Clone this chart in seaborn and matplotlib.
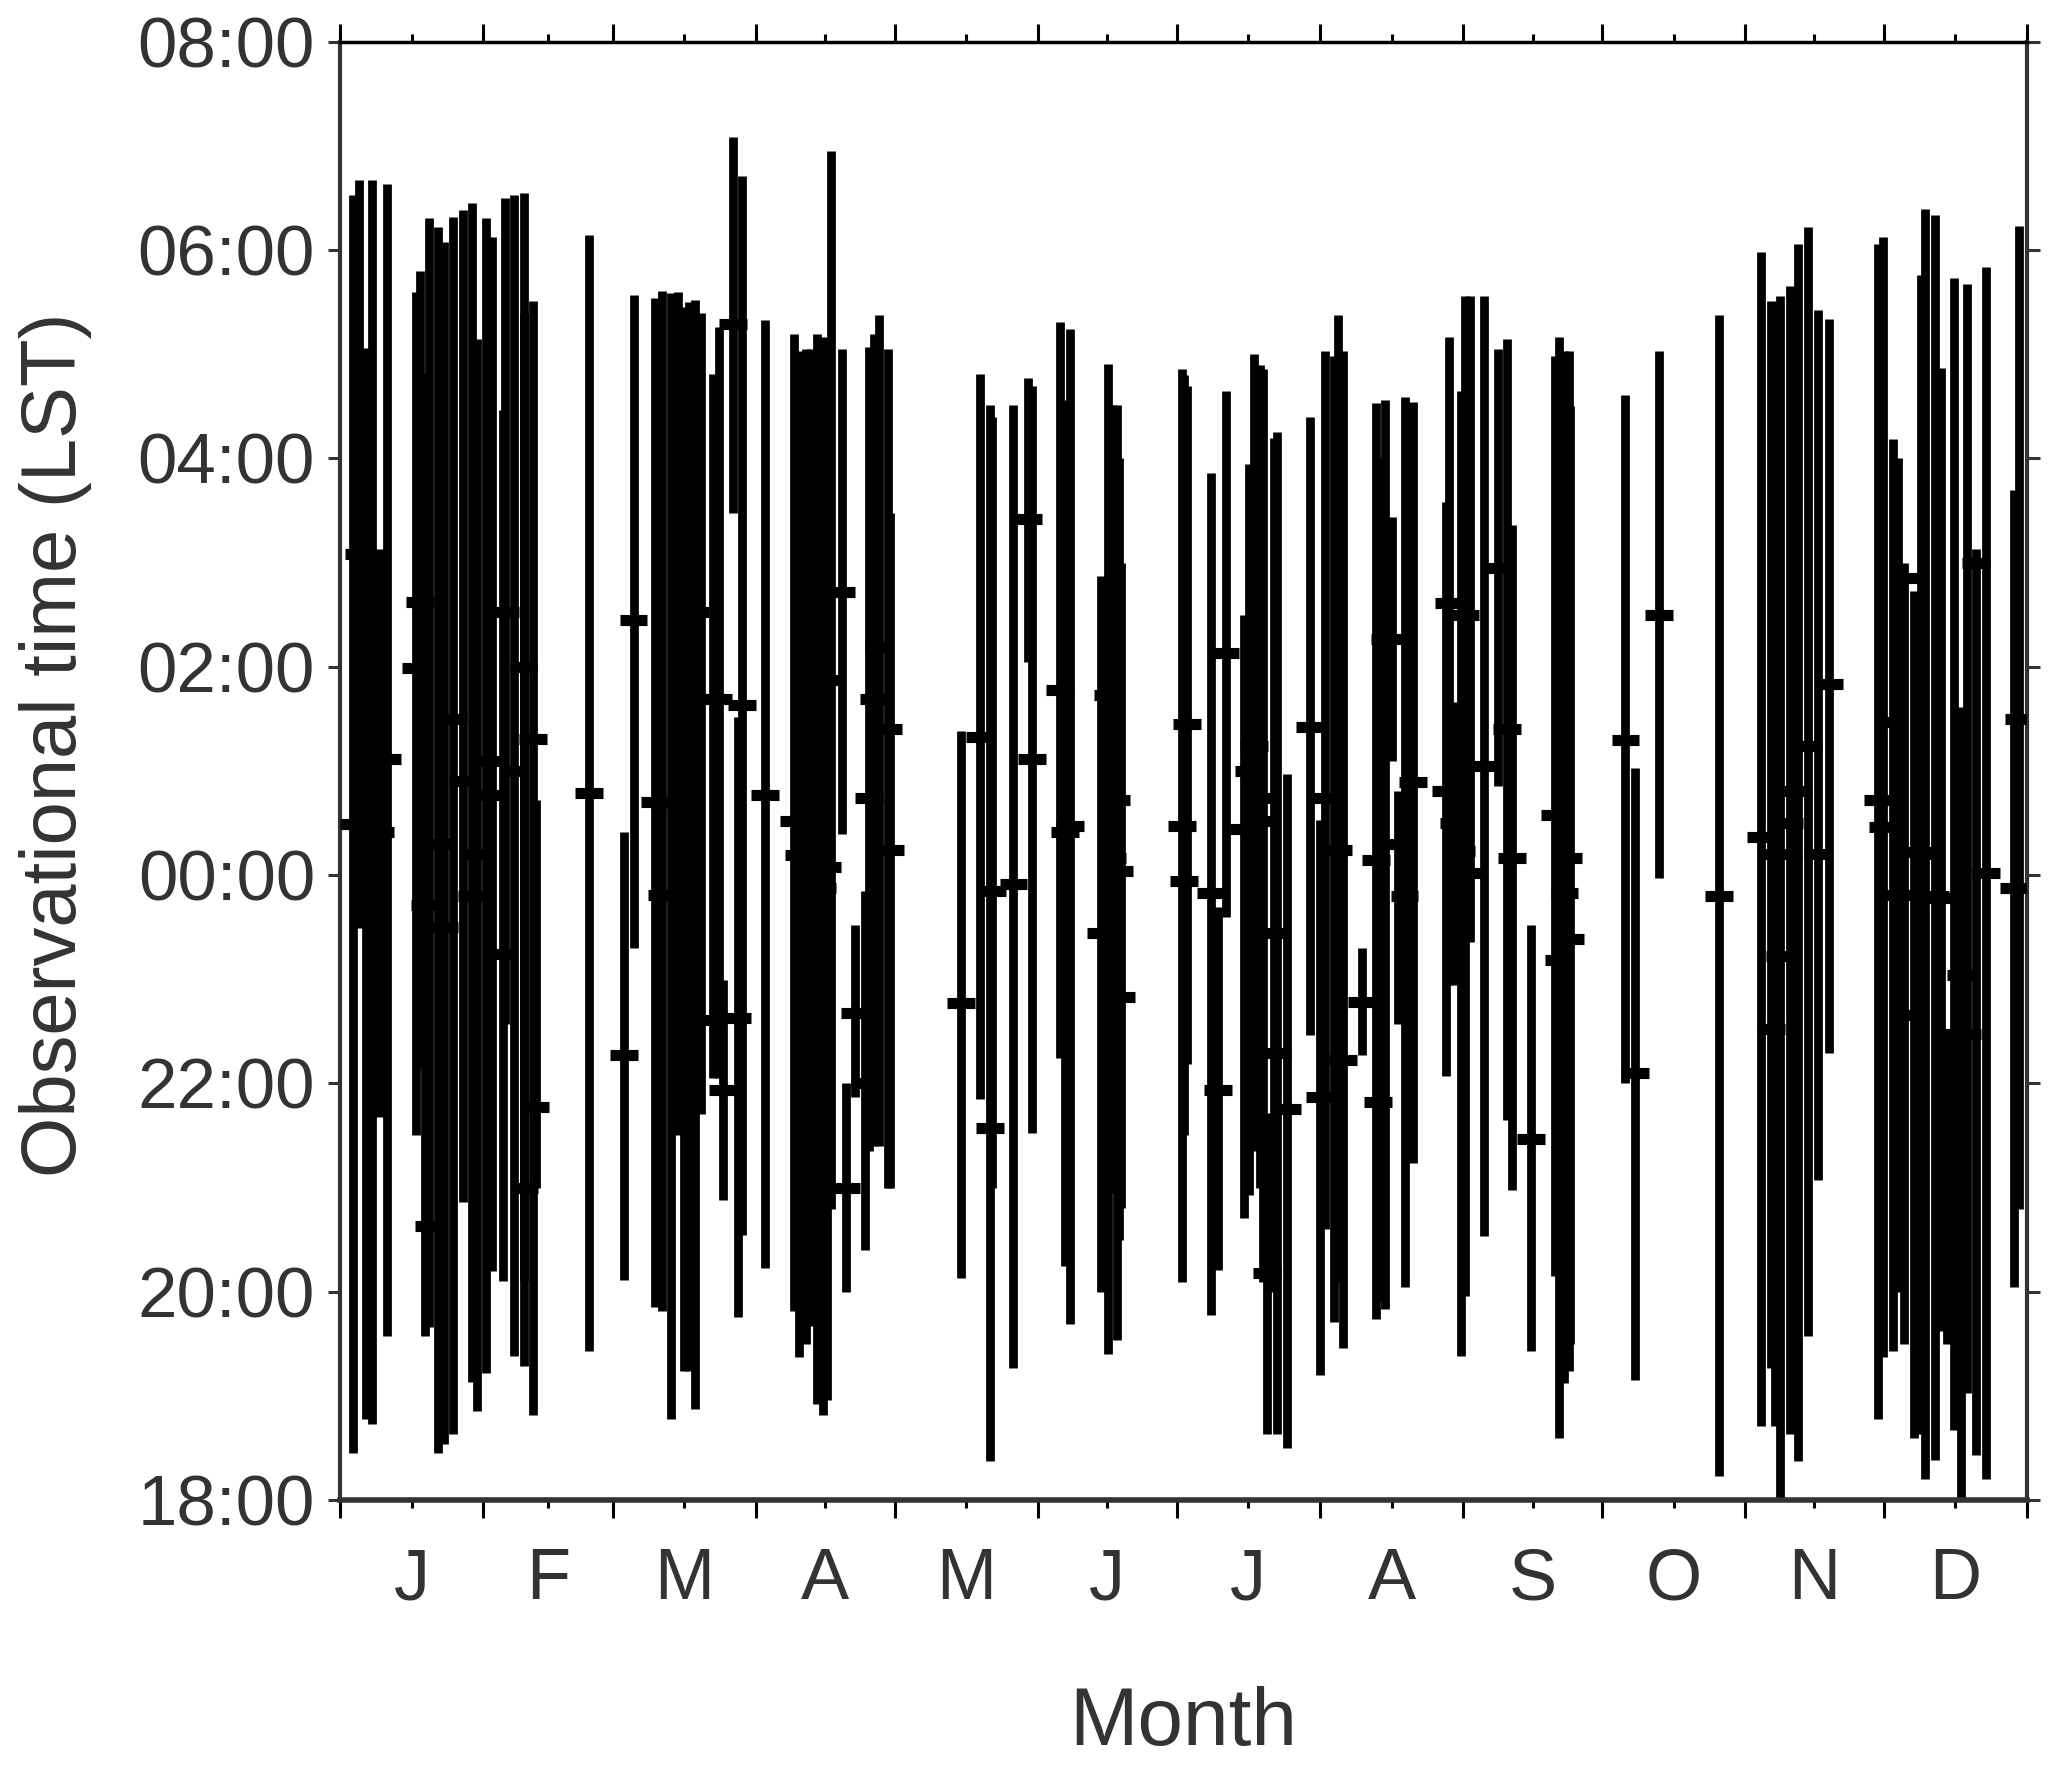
import numpy as np
import pandas as pd
import matplotlib
matplotlib.use("Agg")
import matplotlib.pyplot as plt
import seaborn as sns

# day of year of each event
event_day = [2.9, 4.0, 5.7, 7.0, 8.6, 10.1, 16.5, 17.3, 18.4, 19.3, 21.2, 22.6, 24.4, 26.5, 28.5,
             29.6, 31.6, 32.9, 35.3, 35.7, 37.6, 39.7, 39.9, 41.7, 42.3, 53.9, 61.4, 63.5, 68.2, 69.6,
             71.7, 73.1, 74.4, 75.5, 76.8, 78.2, 80.6, 81.9, 82.9, 85.0, 86.0, 87.0, 92.0, 98.2, 99.3,
             100.9, 102.0, 103.3, 104.4, 105.3, 106.3, 108.5, 109.4, 111.4, 113.6, 114.5, 115.5, 116.6, 118.5, 119.0,
             134.4, 138.5, 140.6, 141.0, 145.7, 148.8, 149.7, 155.8, 156.9, 158.0, 164.6, 166.1, 167.0, 168.0, 168.5,
             169.0, 182.2, 182.6, 183.3, 188.5, 190.0, 191.6, 195.6, 196.6, 197.7, 199.1, 199.6, 200.6, 202.0, 202.7,
             204.8, 209.8, 212.0, 213.0, 215.1, 216.0, 217.0, 221.0, 224.1, 224.5, 226.1, 227.6, 229.0, 230.3, 232.2,
             239.3, 240.0, 241.0, 242.5, 243.4, 244.5, 247.5, 250.6, 252.5, 253.6, 257.7, 262.8, 263.8, 264.9, 265.8,
             266.2, 278.1, 280.2, 285.3, 298.4, 307.5, 309.6, 310.5, 311.5, 313.6, 315.5, 317.6, 319.8, 322.2, 332.8,
             333.8, 335.9, 337.0, 338.4, 340.6, 342.0, 343.0, 345.0, 346.4, 347.6, 349.1, 350.6, 352.1, 353.9, 356.1,
             362.2, 363.2]

# end of observation (hours from local midnight)
time_end = [6.53, 6.67, 5.06, 6.67, 3.13, 6.64, 5.6, 5.8, 4.82, 6.31, 6.22, 6.08, 6.32, 6.39, 6.45,
            5.15, 6.31, 6.13, 4.47, 6.5, 6.53, 6.55, 5.4, 5.51, 0.72, 6.15, 0.41, 5.57, 5.54, 5.61,
            5.59, 5.6, 5.45, 5.5, 5.52, 5.4, 4.81, 5.26, -1.01, 7.09, 1.52, 6.71, 5.33, 5.2, 5.03,
            5.05, 5.05, 5.2, 5.17, 5.07, 6.95, 5.05, -2.0, -0.48, -0.15, 5.07, 5.2, 5.38, 5.05, 3.48,
            1.38, 4.81, 4.51, 4.4, 4.51, 4.77, 4.7, 5.31, 4.56, 5.24, 2.87, 4.91, 4.51, 4.51, 4.0,
            3.0, 4.86, 4.8, 4.7, 3.86, -0.31, 4.65, 2.5, 3.95, 5.0, 4.9, 4.86, -2.28, 4.2, 4.25,
            0.97, 4.4, 0.53, 5.03, 4.98, 5.38, 5.03, -0.7, 4.53, 4.0, 4.56, 3.44, 0.81, 4.59, 4.54,
            3.58, 5.17, 1.66, 4.65, 5.56, 5.56, 5.56, 5.05, 5.15, 3.36, -0.48, 4.98, 5.17, 5.03, 5.03,
            4.5, 4.61, 1.03, 5.03, 5.38, 5.98, 5.51, 5.5, 5.56, 5.66, 6.06, 6.22, 5.43, 5.34, 6.06,
            6.13, 4.19, 4.0, 3.0, 2.73, 5.76, 6.4, 6.34, 4.87, -1.53, 5.73, 1.61, 5.68, 3.13, 5.84,
            3.7, 6.23]

# start of observation (hours from local midnight, negative = evening)
time_start = [-5.55, -0.51, -5.22, -5.27, -2.32, -4.43, -2.5, -1.85, -4.43, -4.34, -5.55, -5.46, -5.37, -3.14, -4.87,
              -5.15, -4.78, -3.8, -3.9, -1.43, -4.62, -4.71, -3.9, -5.18, -3.0, -4.57, -3.89, -0.7, -4.15, -4.19,
              -5.22, -2.5, -4.76, -4.76, -5.13, -2.29, -1.95, -1.95, -3.12, 3.48, -4.24, -3.46, -3.77, -4.19, -4.63,
              -4.5, -4.33, -5.08, -5.18, -5.04, -3.21, 0.39, -4.0, -2.13, -3.6, -2.65, -2.6, -2.6, -3.0, -3.0,
              -3.87, -2.15, -5.63, -3.0, -4.73, 2.05, -2.48, -1.76, -3.75, -4.31, -4.0, -4.6, -3.05, -4.46, -3.5,
              -3.2, -3.91, -2.5, -1.81, -4.22, -3.79, -0.4, -3.29, -3.07, -2.65, -3.0, -3.91, -5.37, -4.0, -5.37,
              -5.5, -1.54, -4.8, -3.4, -4.29, -3.91, -4.54, -1.73, -4.26, -4.1, -4.17, 1.1, -1.43, -3.96, -2.76,
              -1.93, -1.06, -1.06, -4.62, -4.04, -0.64, -3.47, 0.86, -2.35, -3.02, -4.57, -3.85, -5.41, -4.88, -4.76,
              -4.5, -2.0, -4.85, -0.03, -5.77, -5.29, -4.73, -5.29, -6.0, -5.37, -5.63, -4.43, -2.93, -1.71, -5.22,
              -4.63, -4.57, -4.0, -4.5, -5.41, -5.37, -5.8, -5.62, -4.38, -4.5, -5.33, -6.0, -4.97, -5.57, -5.8,
              -3.96, -3.21]

# central (peak) time marked by the horizontal tick
time_peak = [0.49, 3.08, -0.05, 0.45, 0.41, 1.11, 1.99, 2.62, -0.29, -3.37, 0.3, -0.5, 1.5, 0.9, -0.2,
             0.2, 0.77, 1.1, -0.76, 2.53, 1.0, 2.0, -3.0, 1.31, -2.23, 0.79, -1.73, 2.45, 0.7, -0.19,
             0.7, -0.19, 0.18, 0.55, 2.53, -1.39, 1.69, 1.69, -2.06, 5.29, -1.37, 1.63, 0.77, 0.52, 0.19,
             -0.12, 0.19, 0.52, -0.12, 0.08, 1.87, 2.72, -3.0, -1.32, -2.0, 0.74, 1.69, 2.19, 1.4, 0.24,
             -1.23, 1.33, -2.43, -0.15, -0.09, 3.42, 1.11, 1.78, 0.41, 0.47, -0.56, 1.73, 0.16, 0.72, 0.04,
             -1.17, 0.47, -0.06, 1.45, -0.17, -2.06, 2.13, 0.44, 1.0, 1.24, 0.74, 0.52, -3.82, -0.56, -1.71,
             -2.25, 1.42, -2.13, 0.74, 0.24, 0.24, -1.78, -1.22, 0.14, -2.18, 2.27, 2.27, 0.3, -0.2, 0.89,
             0.81, 2.61, 0.5, 0.23, 2.5, 0.02, 1.05, 2.95, 1.4, 0.16, -2.53, 0.58, -0.82, -0.17, 0.16,
             -0.61, 1.3, -1.9, 2.5, -0.2, 0.37, -1.48, 0.2, -0.78, 0.5, 0.81, 1.24, 0.2, 1.83, 0.72,
             0.46, 1.47, -0.19, -1.34, 2.85, 0.22, 0.2, -0.2, -0.22, -2.2, -1.53, -0.96, -1.53, 3.0, 0.02,
             -0.12, 1.5]

month_starts = [0, 31, 59, 90, 120, 151, 181, 212, 243, 273, 304, 334, 365]
month_labels = ["J", "F", "M", "A", "M", "J", "J", "A", "S", "O", "N", "D"]
hour_ticks = [-6, -4, -2, 0, 2, 4, 6, 8]
hour_labels = ["18:00", "20:00", "22:00", "00:00", "02:00", "04:00", "06:00", "08:00"]

df = pd.DataFrame({"day": event_day, "start": time_start, "end": time_end, "peak": time_peak})

sns.set_theme(style="ticks")
plt.rcParams["font.family"] = ["Liberation Sans", "DejaVu Sans"]
grey = "#333333"

fig = plt.figure(figsize=(20.67, 17.69), dpi=100)
ax = fig.add_axes([0.1645, 0.1521, 0.8162, 0.8242])

# observation windows
ax.vlines(df["day"], df["start"], df["end"], color="black", linewidth=6.3, zorder=2)
# peak time ticks (width of about six days)
ax.hlines(df["peak"], df["day"] - 3.0, df["day"] + 3.0, color="black", linewidth=8.0, zorder=3)

ax.set_xlim(month_starts[0], month_starts[-1])
ax.set_ylim(hour_ticks[0], hour_ticks[-1])

mid_months = [(a + b) / 2 for a, b in zip(month_starts[:-1], month_starts[1:])]
ax.set_xticks(month_starts)
ax.set_xticklabels([])
ax.set_xticks(mid_months, minor=True)
ax.set_xticklabels(month_labels, minor=True, fontsize=52, color=grey)
ax.set_yticks(hour_ticks)
ax.set_yticklabels(hour_labels, fontsize=51, color=grey)

ax.tick_params(axis="x", which="major", direction="out", length=13, width=2.2,
               top=True, bottom=True, color="black")
ax.tick_params(axis="x", which="minor", direction="out", length=6, width=2.2,
               top=True, bottom=True, pad=28, color="black")
ax.tick_params(axis="y", which="major", direction="out", length=9, width=2.2,
               left=True, right=True, pad=9, color=grey)

for side in ["left", "right"]:
    ax.spines[side].set_color(grey)
    ax.spines[side].set_linewidth(3)
ax.spines["top"].set_color("black")
ax.spines["top"].set_linewidth(2.5)
ax.spines["bottom"].set_color(grey)
ax.spines["bottom"].set_linewidth(4)

ax.set_xlabel("Month", fontsize=59, color=grey, labelpad=52)
ax.set_ylabel("Observational time (LST)", fontsize=56, color=grey)
ax.yaxis.set_label_coords(-0.147, 0.518)

fig.savefig("out.png", dpi=100)
